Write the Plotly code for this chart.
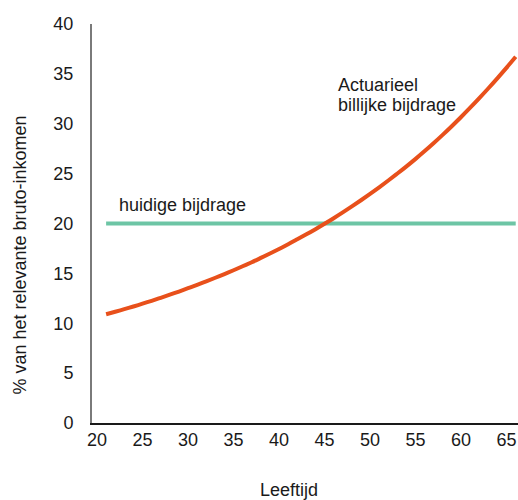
import plotly.graph_objects as go

ages = list(range(21, 67))
fair_contribution = [10.90, 11.15, 11.41, 11.68, 11.96, 12.25, 12.55, 12.86, 13.18, 13.51,
                     13.85, 14.20, 14.56, 14.93, 15.31, 15.71, 16.12, 16.55, 16.99, 17.45,
                     17.92, 18.41, 18.91, 19.43, 19.97, 20.53, 21.11, 21.71, 22.33, 22.97,
                     23.63, 24.31, 25.01, 25.73, 26.48, 27.26, 28.07, 28.91, 29.78, 30.68,
                     31.61, 32.57, 33.56, 34.58, 35.63, 36.71]
current_contribution = [20.0] * len(ages)
x_ticks = [20, 25, 30, 35, 40, 45, 50, 55, 60, 65]
y_ticks = [0, 5, 10, 15, 20, 25, 30, 35, 40]

FONT = "Liberation Sans, Arial, sans-serif"

fig = go.Figure()
fig.add_trace(go.Scatter(x=ages, y=current_contribution, mode="lines",
                         line=dict(color="#6DC5A5", width=4), showlegend=False,
                         hoverinfo="skip"))
fig.add_trace(go.Scatter(x=ages, y=fair_contribution, mode="lines",
                         line=dict(color="#E8501B", width=4, shape="spline"),
                         showlegend=False, hoverinfo="skip"))

fig.update_layout(
    width=518, height=500,
    margin=dict(l=92, r=0, t=23.5, b=76.5),
    paper_bgcolor="white", plot_bgcolor="white",
    font=dict(family=FONT, size=18, color="#1a1a1a"),
    xaxis=dict(range=[19.45, 66.25], tickvals=x_ticks, showgrid=False,
               zeroline=False, showline=True, linecolor="#1a1a1a", linewidth=1.5,
               ticks="", ticklen=0, ticklabelstandoff=0, tickfont=dict(size=18)),
    yaxis=dict(range=[0, 40], tickvals=y_ticks, showgrid=False, zeroline=False,
               showline=True, linecolor="#7a7a7a", linewidth=2,
               ticks="", ticklen=0, ticklabelstandoff=13, tickfont=dict(size=18)),
    annotations=[
        dict(text="% van het relevante bruto-inkomen", xref="paper", yref="paper",
             x=-0.170, y=0.421, textangle=-90, showarrow=False,
             font=dict(size=18), xanchor="center", yanchor="middle"),
        dict(text="Leeftijd", xref="paper", yref="paper", x=0.4625, y=-0.169,
             showarrow=False, font=dict(size=18), xanchor="center", yanchor="middle"),
        dict(text="huidige bijdrage", x=22.23, y=21.9, xref="x", yref="y",
             showarrow=False, xanchor="left", yanchor="middle", font=dict(size=18)),
        dict(text="Actuarieel", x=46.22, y=33.9, xref="x", yref="y",
             showarrow=False, xanchor="left", yanchor="middle", font=dict(size=18)),
        dict(text="billijke bijdrage", x=46.22, y=31.9, xref="x", yref="y",
             showarrow=False, xanchor="left", yanchor="middle", font=dict(size=18)),
    ],
)

fig.write_html(
    "out.html",
    config={"displayModeBar": False},
    post_script="document.body.style.margin='0';document.body.style.overflow='hidden';"
                "document.documentElement.style.overflow='hidden';",
)
